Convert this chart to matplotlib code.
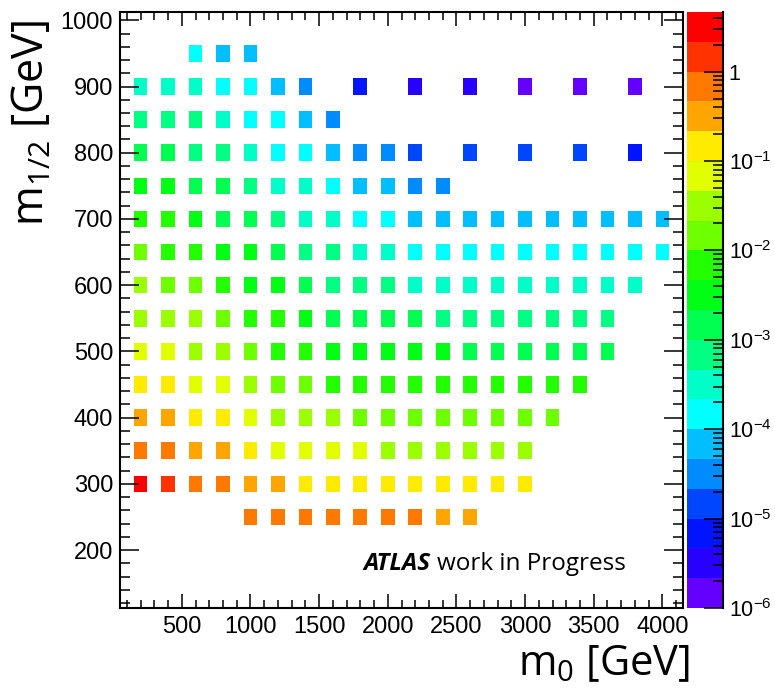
import numpy as np
import matplotlib
matplotlib.use("Agg")
import matplotlib.pyplot as plt
from matplotlib.colors import ListedColormap, LogNorm
from matplotlib.ticker import MultipleLocator, LogLocator

plt.rcParams['font.family'] = ['Liberation Sans', 'DejaVu Sans']
plt.rcParams['mathtext.default'] = 'regular'

n = None

# grid of the scan
m0_points = [200, 400, 600, 800, 1000, 1200, 1400, 1600, 1800, 2000,
             2200, 2400, 2600, 2800, 3000, 3200, 3400, 3600, 3800, 4000]
m12_rows = [950, 900, 850, 800, 750, 700, 650, 600, 550, 500, 450, 400, 350, 300, 250]

# values per row, aligned with m0_points (None = no point)
row_950 = [n, n, 1.5e-4, 6.8e-5, 6.8e-5, n, n, n, n, n, n, n, n, n, n, n, n, n, n, n]
row_900 = [3.2e-4, 3.2e-4, 3.2e-4, 1.5e-4, 1.5e-4, 6.8e-5, 3.2e-5, n, 6.8e-6, n,
           3.2e-6, n, 3.2e-6, n, 1.5e-6, n, 1.5e-6, n, 1.5e-6, n]
row_850 = [6.8e-4, 6.8e-4, 6.8e-4, 3.2e-4, 1.5e-4, 1.5e-4, 6.8e-5, 3.2e-5, n, n,
           n, n, n, n, n, n, n, n, n, n]
row_800 = [1.5e-3, 1.5e-3, 6.8e-4, 6.8e-4, 3.2e-4, 1.5e-4, 1.5e-4, 6.8e-5, 3.2e-5, 3.2e-5,
           1.5e-5, n, 1.5e-5, n, 1.5e-5, n, 1.5e-5, n, 6.8e-6, n]
row_750 = [3.2e-3, 3.2e-3, 1.5e-3, 1.5e-3, 6.8e-4, 3.2e-4, 3.2e-4, 1.5e-4, 6.8e-5, 6.8e-5,
           3.2e-5, 3.2e-5, n, n, n, n, n, n, n, n]
row_700 = [6.8e-3, 6.8e-3, 3.2e-3, 1.5e-3, 1.5e-3, 6.8e-4, 3.2e-4, 3.2e-4, 1.5e-4, 1.5e-4,
           6.8e-5, 6.8e-5, 6.8e-5, 6.8e-5, 6.8e-5, 6.8e-5, 6.8e-5, 6.8e-5, 6.8e-5, 6.8e-5]
row_650 = [0.015, 6.8e-3, 6.8e-3, 3.2e-3, 3.2e-3, 1.5e-3, 6.8e-4, 6.8e-4, 3.2e-4, 3.2e-4,
           1.5e-4, 1.5e-4, 1.5e-4, 1.5e-4, 1.5e-4, 1.5e-4, 1.5e-4, 1.5e-4, 1.5e-4, 1.5e-4]
row_600 = [0.032, 0.015, 0.015, 6.8e-3, 3.2e-3, 3.2e-3, 1.5e-3, 6.8e-4, 6.8e-4, 6.8e-4,
           3.2e-4, 3.2e-4, 3.2e-4, 3.2e-4, 3.2e-4, 3.2e-4, 3.2e-4, 3.2e-4, 3.2e-4, n]
row_550 = [0.032, 0.032, 0.032, 0.015, 6.8e-3, 6.8e-3, 3.2e-3, 1.5e-3, 1.5e-3, 1.5e-3,
           1.5e-3, 6.8e-4, 6.8e-4, 6.8e-4, 6.8e-4, 6.8e-4, 6.8e-4, 6.8e-4, n, n]
row_500 = [0.068, 0.068, 0.032, 0.032, 0.015, 6.8e-3, 6.8e-3, 3.2e-3, 3.2e-3, 3.2e-3,
           3.2e-3, 3.2e-3, 1.5e-3, 1.5e-3, 1.5e-3, 1.5e-3, 1.5e-3, 1.5e-3, n, n]
row_450 = [0.15, 0.15, 0.068, 0.068, 0.032, 0.015, 0.015, 6.8e-3, 6.8e-3, 6.8e-3,
           6.8e-3, 6.8e-3, 6.8e-3, 6.8e-3, 6.8e-3, 6.8e-3, 6.8e-3, n, n, n]
row_400 = [0.32, 0.32, 0.15, 0.15, 0.068, 0.032, 0.032, 0.032, 0.015, 0.015,
           0.015, 0.015, 0.015, 0.015, 0.015, 0.015, n, n, n, n]
row_350 = [0.68, 0.68, 0.32, 0.32, 0.15, 0.068, 0.068, 0.068, 0.068, 0.032,
           0.032, 0.032, 0.032, 0.032, 0.032, n, n, n, n, n]
row_300 = [3.2, 1.5, 0.68, 0.68, 0.32, 0.32, 0.15, 0.15, 0.15, 0.15,
           0.15, 0.15, 0.15, 0.15, 0.15, n, n, n, n, n]
row_250 = [n, n, n, n, 0.68, 0.68, 0.68, 0.68, 0.68, 0.68,
           0.68, 0.32, 0.32, n, n, n, n, n, n, n]

rows = [row_950, row_900, row_850, row_800, row_750, row_700, row_650, row_600,
        row_550, row_500, row_450, row_400, row_350, row_300, row_250]

palette = ['#6400ff', '#2800ff', '#0014ff', '#0046ff', '#008cff', '#00beff',
           '#00ffff', '#00ffc8', '#00ff82', '#00ff50', '#00ff14', '#23ff00',
           '#6eff00', '#9bff00', '#e1ff00', '#ffeb00', '#ffa500', '#ff7800',
           '#ff3200', '#ff0000']

# histogram binning (100 GeV in m0, 25 GeV in m1/2)
x_edges = np.arange(50, 4151, 100)
y_edges = np.arange(112.5, 1013, 25)
z = np.full((len(y_edges) - 1, len(x_edges) - 1), np.nan)
for m12, vals in zip(m12_rows, rows):
    iy = np.searchsorted(y_edges, m12) - 1
    for m0, v in zip(m0_points, vals):
        if v is None:
            continue
        ix = np.searchsorted(x_edges, m0) - 1
        z[iy, ix] = v

fig = plt.figure(figsize=(7.75, 6.88), dpi=100)
ax = fig.add_axes([120 / 775, 80 / 688, 563 / 775, 596 / 688])

cmap = ListedColormap(palette)
norm = LogNorm(vmin=1e-6, vmax=10 ** (20 / 3 - 6))
mesh = ax.pcolormesh(x_edges, y_edges, np.ma.masked_invalid(z), cmap=cmap, norm=norm)

ax.set_xlim(50, 4150)
ax.set_ylim(112.5, 1012.5)
ax.xaxis.set_major_locator(MultipleLocator(500))
ax.xaxis.set_minor_locator(MultipleLocator(100))
ax.yaxis.set_major_locator(MultipleLocator(100))
ax.yaxis.set_minor_locator(MultipleLocator(20))
ax.tick_params(which='both', direction='in', top=True, right=True, width=1.1)
ax.tick_params(axis='x', which='major', length=10, pad=6, labelsize=17)
ax.tick_params(axis='x', which='minor', length=5.5)
ax.tick_params(axis='y', which='major', length=13.5, pad=5, labelsize=17)
ax.tick_params(axis='y', which='minor', length=7)
for sp in ax.spines.values():
    sp.set_linewidth(1.5)

# palette axis
cax = fig.add_axes([687 / 775, 80 / 688, 36 / 775, 596 / 688])
cb = fig.colorbar(mesh, cax=cax)
cb.outline.set_visible(False)
cax.spines['right'].set_visible(True)
cax.spines['right'].set_linewidth(1.5)
cb.set_ticks([1e-6, 1e-5, 1e-4, 1e-3, 1e-2, 1e-1, 1])
cb.set_ticklabels(['$10^{-6}$', '$10^{-5}$', '$10^{-4}$', '$10^{-3}$',
                   '$10^{-2}$', '$10^{-1}$', '1'])
cax.yaxis.set_minor_locator(LogLocator(base=10, subs=np.arange(2, 10)))
cax.tick_params(which='both', direction='in', right=True, width=1.1, labelsize=15.5)
cax.tick_params(which='major', length=14, pad=4)
cax.tick_params(which='minor', length=7)

# labels
fig.text(690 / 775, 1 - 675 / 688, 'm$_0$ [GeV]', family='Open Sans', fontsize=30,
         ha='right', va='baseline')
fig.text(33 / 775, 1 - 20 / 688, 'm$_{1/2}$ [GeV]', family='Open Sans', fontsize=31,
         rotation=90, ha='center', va='top')
fig.text(363 / 775, 1 - 570 / 688, 'ATLAS', family='Open Sans', fontsize=17.5,
         weight='bold', style='italic', ha='left', va='baseline')
fig.text(437 / 775, 1 - 570 / 688, 'work in Progress', family='Open Sans', fontsize=17.5,
         ha='left', va='baseline')

fig.savefig('out.png', dpi=100)
